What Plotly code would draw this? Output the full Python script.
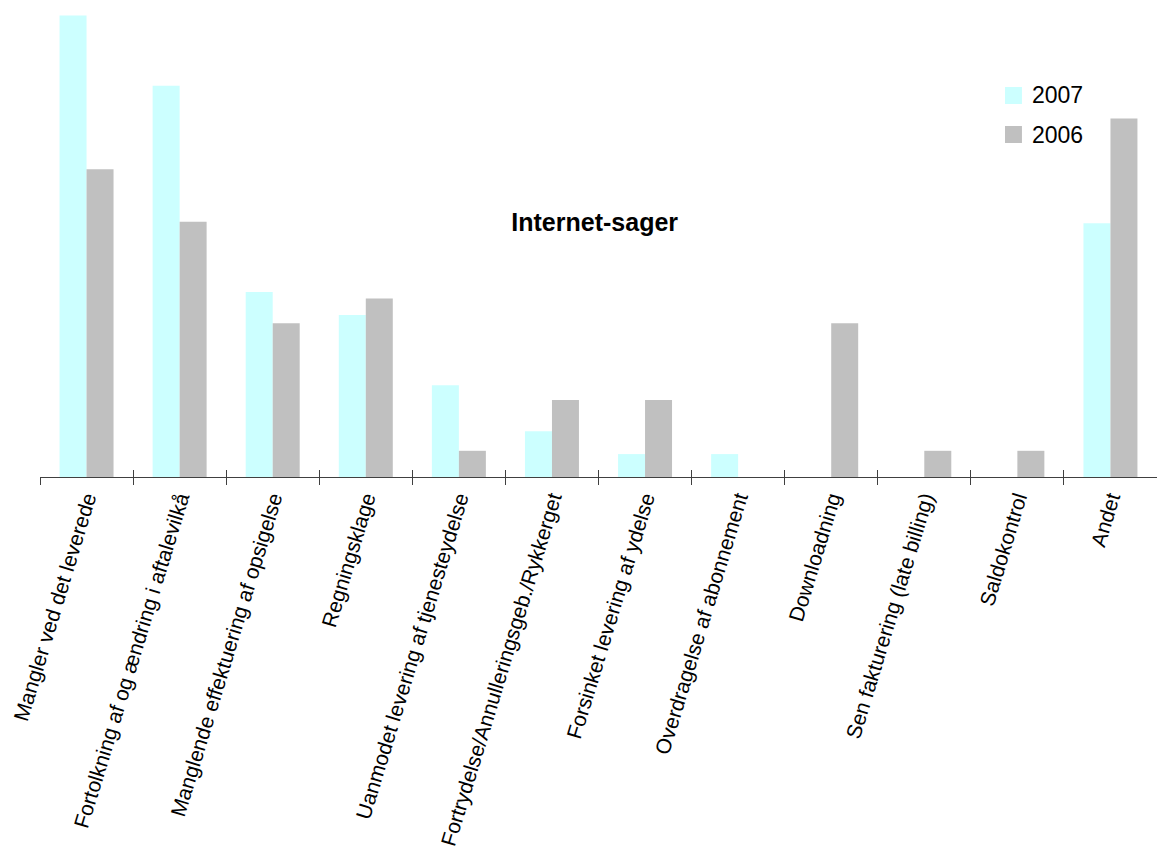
import plotly.graph_objects as go

# Complaint categories (x axis)
categories = [
    "Mangler ved det leverede",
    "Fortolkning af og ændring i aftalevilkå",
    "Manglende effektuering af opsigelse",
    "Regningsklage",
    "Uanmodet levering af tjenesteydelse",
    "Fortrydelse/Annulleringsgeb./Rykkerget",
    "Forsinket levering af ydelse",
    "Overdragelse af abonnement",
    "Downloadning",
    "Sen fakturering (late billing)",
    "Saldokontrol",
    "Andet",
]

# Share of cases per category (%)
share_2007 = [28.2, 23.9, 11.3, 9.9, 5.6, 2.8, 1.4, 1.4, 0, 0, 0, 15.5]
share_2006 = [18.8, 15.6, 9.4, 10.9, 1.6, 4.7, 4.7, 0, 9.4, 1.6, 1.6, 21.9]

series_names = ["2007", "2006"]
series_colors = ["#CCFFFF", "#C0C0C0"]

FONT = "Liberation Sans, Arial, sans-serif"
BAR_W = 0.29

fig = go.Figure()
# 2007 bars sit left of the category centre, 2006 bars right of it
fig.add_trace(go.Bar(
    x=categories, y=share_2007, name=series_names[0],
    width=BAR_W, offset=-BAR_W,
    marker=dict(color=series_colors[0], line=dict(width=0)),
    showlegend=False, xaxis="x",
))
fig.add_trace(go.Bar(
    x=categories, y=share_2006, name=series_names[1],
    width=BAR_W, offset=0,
    marker=dict(color=series_colors[1], line=dict(width=0)),
    showlegend=False, xaxis="x2",
))

# Legend drawn as swatches + labels in the upper right
leg_x0, leg_x1, leg_tx = 0.8639, 0.8791, 0.8863
leg_rows = [(0.8176, 0.7820, 0.7998), (0.7358, 0.7002, 0.7180)]
for (y_top, y_bot, y_txt), name, col in zip(leg_rows, series_names, series_colors):
    fig.add_shape(type="rect", xref="paper", yref="paper",
                  x0=leg_x0, x1=leg_x1, y0=y_bot, y1=y_top,
                  fillcolor=col, line=dict(width=0))
    fig.add_annotation(xref="paper", yref="paper", x=leg_tx, y=y_txt,
                       text=name, showarrow=False, xanchor="left", yanchor="middle",
                       font=dict(family=FONT, size=23, color="#000000"))

fig.update_layout(
    width=1157, height=852,
    margin=dict(l=40, r=0, t=0, b=375),
    paper_bgcolor="white", plot_bgcolor="white",
    barmode="overlay",
    title=dict(text="<b>Internet-sager</b>", xref="container", yref="container",
               x=0.514, y=0.739, xanchor="center", yanchor="middle",
               font=dict(family=FONT, size=25, color="#000000")),
    xaxis=dict(
        type="category", categoryorder="array", categoryarray=categories,
        range=[-0.5, 11.5],
        showline=True, linecolor="#404040", linewidth=1,
        ticks="outside", tickson="boundaries", ticklen=7, tickcolor="#404040",
        tickangle=-73, automargin=False,
        tickfont=dict(family=FONT, size=21, color="#000000"),
        showgrid=False, zeroline=False,
    ),
    # companion axis carrying the upward half of each tick mark
    xaxis2=dict(
        type="category", categoryorder="array", categoryarray=categories,
        range=[-0.5, 11.5], matches="x", overlaying="x", anchor="y", side="bottom",
        showline=False, ticks="inside", tickson="boundaries", ticklen=7,
        tickcolor="#404040", showticklabels=False, showgrid=False, zeroline=False,
    ),
    yaxis=dict(range=[0, 29.14], visible=False, showgrid=False, zeroline=False),
)

fig.write_html("out.html")
